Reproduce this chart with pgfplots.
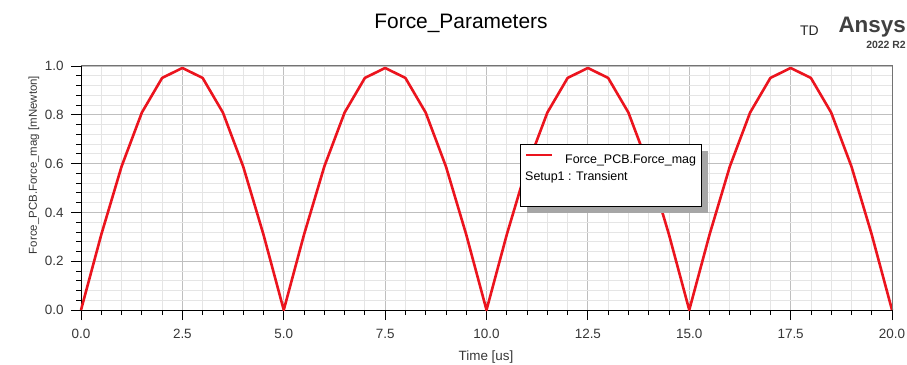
\documentclass[border=0pt]{standalone}
\usepackage{pgfplots}
\pgfplotsset{compat=1.18}
\usepackage{fontspec}
\setmainfont{Liberation Sans}
\definecolor{curvered}{RGB}{235,20,30}
\definecolor{ticktxt}{RGB}{55,55,55}
\begin{document}
\begin{tikzpicture}[x=1bp,y=1bp]
\begin{axis}[
  at={(81bp,54bp)}, anchor=south west,
  scale only axis, width=811bp, height=244bp,
  xmin=0, xmax=20, ymin=0, ymax=1,
  xtick={0,2.5,5,7.5,10,12.5,15,17.5,20},
  ytick={0,0.2,0.4,0.6,0.8,1.0},
  minor x tick num=4, minor y tick num=4,
  grid=both,
  major grid style={color=black!25, line width=0.8bp},
  minor grid style={color=black!10, line width=0.8bp},
  tick align=outside,
  xtick pos=bottom, ytick pos=left,
  major tick length=10bp, minor tick length=5bp,
  every tick/.style={black, line width=0.8bp},
  axis line style={black, line width=1bp},
  /pgf/number format/assume math mode=true,
  /pgf/number format/.cd, fixed, fixed zerofill, precision=1, /pgfplots/.cd,
  xticklabel style={font=\fontsize{13.5}{15}\selectfont, text=ticktxt, yshift=-6bp},
  yticklabel style={font=\fontsize{13.5}{15}\selectfont, text=ticktxt, xshift=-4bp},
  clip=false,
]
\addplot[curvered, line width=2.6bp, line join=round] coordinates {
(0,0) (0.5,0.309) (1,0.588) (1.5,0.809) (2,0.951) (2.5,0.992) (3,0.951) (3.5,0.809) (4,0.588) (4.5,0.309)
(5,0) (5.5,0.309) (6,0.588) (6.5,0.809) (7,0.951) (7.5,0.992) (8,0.951) (8.5,0.809) (9,0.588) (9.5,0.309)
(10,0) (10.5,0.309) (11,0.588) (11.5,0.809) (12,0.951) (12.5,0.992) (13,0.951) (13.5,0.809) (14,0.588) (14.5,0.309)
(15,0) (15.5,0.309) (16,0.588) (16.5,0.809) (17,0.951) (17.5,0.992) (18,0.951) (18.5,0.809) (19,0.588) (19.5,0.309)
(20,0)
};
\draw[black!55, line width=1bp] (rel axis cs:0,1) -- (rel axis cs:1,1) -- (rel axis cs:1,0);
\end{axis}
% title and header
\node[anchor=base, font=\fontsize{21}{24}\selectfont] at (461,336) {Force\_Parameters};
\node[anchor=base west, inner sep=0, font=\fontsize{14}{16}\selectfont, text=black!85] at (800,329) {TD};
\node[anchor=base east, inner sep=0, font=\fontsize{22.5}{25}\selectfont\bfseries, text=black!75] at (906,332) {Ansys};
\node[anchor=base east, inner sep=0, font=\fontsize{10.5}{12}\selectfont\bfseries, text=black!75] at (906,316) {2022 R2};
% axis labels
\node[rotate=90, font=\fontsize{11.5}{13}\selectfont, text=ticktxt] at (34,199) {Force\_PCB.Force\_mag [mNewton]};
\node[anchor=base, inner sep=0, font=\fontsize{13.5}{15}\selectfont, text=ticktxt] at (486,4) {Time [us]};
% legend
\fill[black!35] (527,151) rectangle (708,213);
\draw[fill=white, line width=1bp] (520,158) rectangle (701,220);
\draw[curvered, line width=2.2bp] (526,209) -- (552,209);
\node[anchor=base west, inner sep=0, font=\fontsize{12.5}{14}\selectfont] at (565,201) {Force\_PCB.Force\_mag};
\node[anchor=base west, inner sep=0, font=\fontsize{12.5}{14}\selectfont] at (525,184) {Setup1 : Transient};
\pgfresetboundingbox
\path[use as bounding box] (0,0) rectangle (907,364);
\end{tikzpicture}
\end{document}
